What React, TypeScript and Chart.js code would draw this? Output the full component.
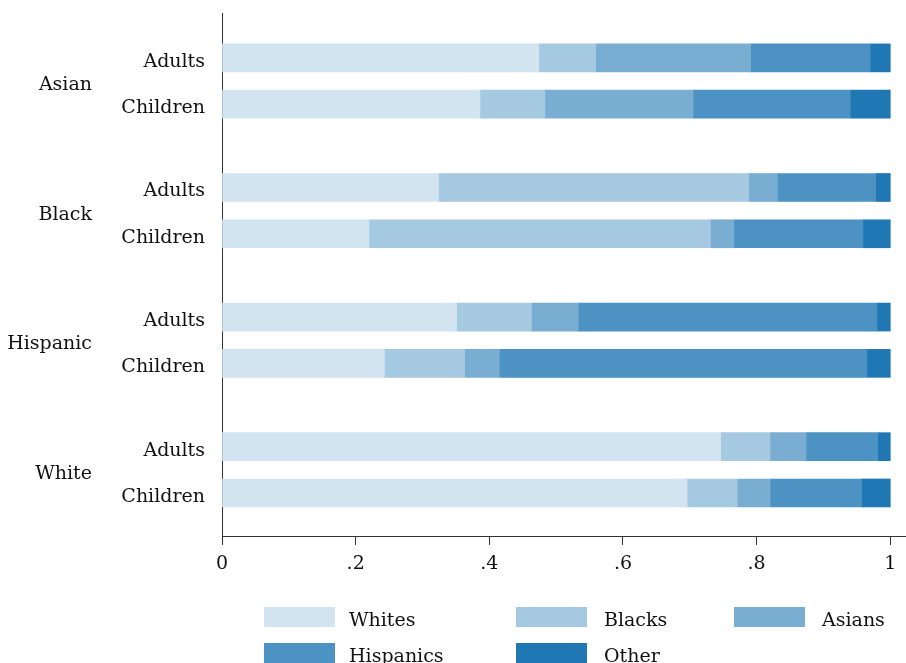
import React, { useEffect, useRef } from 'react';
import { Chart, registerables } from 'chart.js';

Chart.register(...registerables);

// ---- data ----
const groups = ['Asian', 'Black', 'Hispanic', 'White'];
const ages = ['Adults', 'Children'];
const seriesNames = ['Whites', 'Blacks', 'Asians', 'Hispanics', 'Other'];
// bar order: Asian A, Asian C, Black A, Black C, Hispanic A, Hispanic C, White A, White C
const whites = [0.474, 0.386, 0.324, 0.220, 0.351, 0.243, 0.746, 0.696];
const blacks = [0.085, 0.097, 0.464, 0.511, 0.112, 0.120, 0.074, 0.075];
const asians = [0.232, 0.222, 0.043, 0.035, 0.070, 0.052, 0.054, 0.049];
const hispanics = [0.179, 0.235, 0.147, 0.193, 0.447, 0.550, 0.107, 0.137];
const other = [0.030, 0.060, 0.022, 0.041, 0.020, 0.035, 0.019, 0.043];
const xTicks = [0, 0.2, 0.4, 0.6, 0.8, 1];

const seriesValues = [whites, blacks, asians, hispanics, other];
const colors = ['#d2e4f0', '#a5c9e1', '#79aed2', '#4c93c3', '#1f78b4'];

const GROUP_STEP = 2.8;
const barPos = groups.flatMap((_, g) => ages.map((_, b) => g * GROUP_STEP + b));
const barLabels = groups.flatMap(() => ages);
const groupPos = groups.map((_, g) => g * GROUP_STEP + 0.5);
const Y_MIN = -0.97;
const Y_MAX = 10.33;

const FONT = { family: '"DejaVu Serif", serif', size: 19 };
// y-axis labels sit slightly below their bar centre in the reference
const Y_FONT = { family: '"DejaVu Serif", serif', size: 19, lineHeight: '8px' };
const TEXT = '#111111';
const AXIS = '#333333';

const fmtTick = (v: number) => {
  if (v === 0) return '0';
  if (v === 1) return '1';
  return String(Math.round(v * 10) / 10).replace(/^0\./, '.');
};

const gridLegend = {
  id: 'gridLegend',
  afterDraw(chart: any) {
    const ctx = chart.ctx;
    const colX = [264, 516, 734];
    const textOff = [85, 88, 88];
    const rowY = [607, 643];
    ctx.save();
    chart.data.datasets.forEach((ds: any, i: number) => {
      const c = i % 3;
      const r = Math.floor(i / 3);
      ctx.fillStyle = ds.backgroundColor;
      ctx.fillRect(colX[c], rowY[r], 71, 20);
      ctx.fillStyle = TEXT;
      ctx.font = `${FONT.size}px ${FONT.family}`;
      ctx.textBaseline = 'middle';
      ctx.textAlign = 'left';
      ctx.fillText(ds.label, colX[c] + textOff[c], rowY[r] + 14);
    });
    ctx.restore();
  },
};

export default function App() {
  const ref = useRef<HTMLCanvasElement | null>(null);

  useEffect(() => {
    if (!ref.current) return;
    const chart = new Chart(ref.current, {
      type: 'bar',
      data: {
        datasets: seriesNames.map((name, s) => ({
          label: name,
          data: seriesValues[s].map((v, i) => ({ x: v, y: barPos[i] })),
          backgroundColor: colors[s],
          borderWidth: 0,
          barThickness: 28,
          xAxisID: 'x',
          yAxisID: 'y',
        })),
      },
      options: {
        indexAxis: 'y',
        animation: false,
        responsive: false,
        devicePixelRatio: 1,
        layout: { padding: { top: 13, right: 1, bottom: 87, left: 8 } },
        plugins: {
          legend: { display: false },
          tooltip: { enabled: false },
        },
        scales: {
          x: {
            type: 'linear',
            min: 0,
            max: 1.022,
            stacked: true,
            offset: false,
            afterBuildTicks: (s: any) => {
              s.ticks = xTicks.map((v) => ({ value: v }));
            },
            afterFit: (s: any) => {
              s.height = 40;
            },
            ticks: {
              callback: (v: any) => fmtTick(Number(v)),
              font: FONT,
              color: TEXT,
              padding: 8,
              maxRotation: 0,
            },
            grid: {
              display: true,
              drawOnChartArea: false,
              drawTicks: true,
              tickLength: 9,
              color: AXIS,
              lineWidth: 1,
            },
            border: { display: true, color: AXIS, width: 1 },
          },
          y: {
            type: 'linear',
            position: 'left',
            weight: 0,
            reverse: true,
            offset: false,
            min: Y_MIN,
            max: Y_MAX,
            stacked: true,
            afterBuildTicks: (s: any) => {
              s.ticks = barPos.map((v) => ({ value: v }));
            },
            afterFit: (s: any) => {
              s.width = 100;
              s.paddingTop = 0;
              s.paddingBottom = 0;
            },
            ticks: {
              callback: (_v: any, i: number) => ['', barLabels[i]],
              font: Y_FONT,
              color: TEXT,
              padding: 17,
            },
            grid: { display: false, drawTicks: false },
            border: { display: true, color: AXIS, width: 1 },
          },
          yg: {
            type: 'linear',
            position: 'left',
            weight: 1,
            reverse: true,
            offset: false,
            min: Y_MIN,
            max: Y_MAX,
            afterBuildTicks: (s: any) => {
              s.ticks = groupPos.map((v) => ({ value: v }));
            },
            afterFit: (s: any) => {
              s.width = 114;
              s.paddingTop = 0;
              s.paddingBottom = 0;
            },
            ticks: {
              callback: (_v: any, i: number) => ['', groups[i]],
              font: Y_FONT,
              color: TEXT,
              padding: 30,
            },
            grid: { display: false, drawTicks: false },
            border: { display: false },
          },
        },
      } as any,
      plugins: [gridLegend],
    });
    return () => chart.destroy();
  }, []);

  return (
    <div style={{ position: 'fixed', left: 0, top: 0, width: 906, height: 663, background: '#ffffff' }}>
      <canvas ref={ref} width={906} height={663} />
    </div>
  );
}
